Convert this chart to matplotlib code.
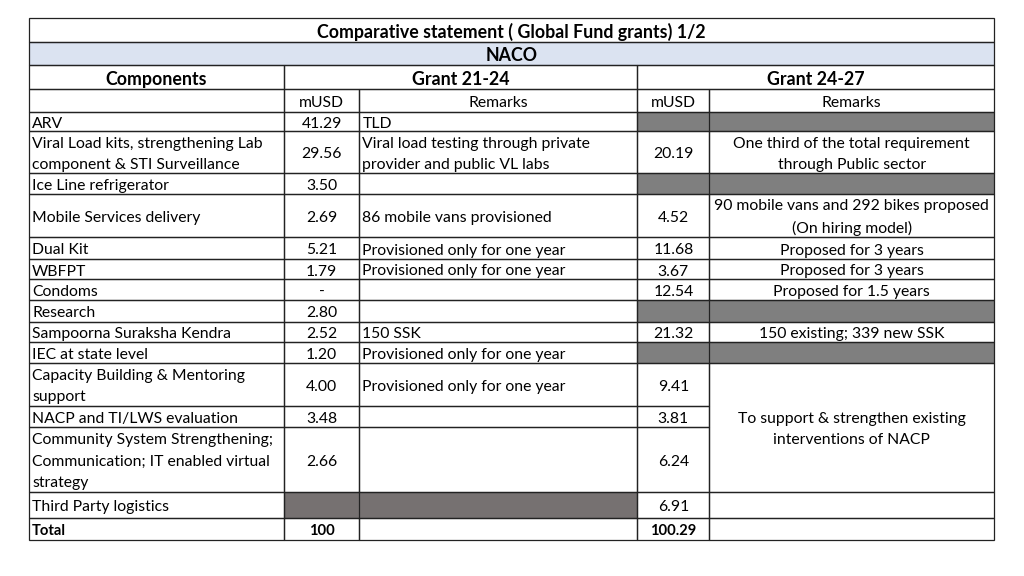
import matplotlib.pyplot as plt
from matplotlib.patches import Rectangle

plt.rcParams['font.family'] = ['Lato', 'DejaVu Sans']

# ---- table content ----
title = 'Comparative statement ( Global Fund grants) 1/2'
org = 'NACO'
first_col = 'Components'
grant_a = 'Grant 21-24'
grant_b = 'Grant 24-27'
sub_heads = ['mUSD', 'Remarks']

components = ['ARV',
              'Viral Load kits, strengthening Lab\ncomponent & STI Surveillance',
              'Ice Line refrigerator',
              'Mobile Services delivery',
              'Dual Kit',
              'WBFPT',
              'Condoms',
              'Research',
              'Sampoorna Suraksha Kendra',
              'IEC at state level',
              'Capacity Building & Mentoring\nsupport',
              'NACP and TI/LWS evaluation',
              'Community System Strengthening;\nCommunication; IT enabled virtual\nstrategy',
              'Third Party logistics',
              'Total']
# None -> shaded (not applicable) cell
musd_a = ['41.29', '29.56', '3.50', '2.69', '5.21', '1.79', '-', '2.80', '2.52', '1.20',
          '4.00', '3.48', '2.66', None, '100']
remarks_a = ['TLD', 'Viral load testing through private\nprovider and public VL labs', '',
             '86 mobile vans provisioned', 'Provisioned only for one year',
             'Provisioned only for one year', '', '', '150 SSK', 'Provisioned only for one year',
             'Provisioned only for one year', '', '', None, '']
musd_b = [None, '20.19', None, '4.52', '11.68', '3.67', '12.54', None, '21.32', None,
          '9.41', '3.81', '6.24', '6.91', '100.29']
remarks_b = [None, 'One third of the total requirement\nthrough Public sector', None,
             '90 mobile vans and 292 bikes proposed\n(On hiring model)',
             'Proposed for 3 years', 'Proposed for 3 years', 'Proposed for 1.5 years', None,
             '150 existing; 339 new SSK', None,
             'To support & strengthen existing\ninterventions of NACP', '', '', '', '']
merged_b = (10, 12)  # rows sharing one remarks cell in grant 24-27

# ---- layout (pixels) ----
xs = [29, 284, 359.3, 637.3, 709.3, 994]
ys = [18, 42.3, 65, 89.3, 111.7, 131, 173.3, 194, 237.3, 259.3, 279.3, 300, 321.7,
      341.7, 363.3, 405.7, 427.3, 491.7, 518.3, 540]
fs = 11.3       # body text
fs_head = 12.8  # bold header text
fs_total = 10.6
edge = '#222222'
lw = 0.9
blue = '#dbe3f1'
shade_a = '#767171'
shade_b = '#7f7f7f'

fig = plt.figure(figsize=(10.24, 5.76), dpi=100)
ax = fig.add_axes([0, 0, 1, 1])
ax.set_xlim(0, 1024)
ax.set_ylim(576, 0)
ax.axis('off')


def cell(c0, c1, r0, r1, text='', ha='center', bold=False, fill=None, size=fs):
    x0, x1 = xs[c0], xs[c1]
    y0, y1 = ys[r0], ys[r1]
    if fill:
        ax.add_patch(Rectangle((x0, y0), x1 - x0, y1 - y0, facecolor=fill,
                               edgecolor='none', zorder=1))
    ax.add_patch(Rectangle((x0, y0), x1 - x0, y1 - y0, fill=False,
                           edgecolor=edge, lw=lw, zorder=3))
    if text:
        tx = x0 + 3 if ha == 'left' else (x0 + x1) / 2
        ax.text(tx, (y0 + y1) / 2 + 2.2, text, ha=ha, va='center', fontsize=size,
                fontweight='bold' if bold else 'normal', linespacing=1.68,
                color='black', zorder=4)


# header
cell(0, 5, 0, 1, title, bold=True, size=fs_head)
cell(0, 5, 1, 2, org, bold=True, fill=blue, size=fs_head)
cell(0, 1, 2, 3, first_col, bold=True, size=fs_head)
cell(1, 3, 2, 3, grant_a, bold=True, size=fs_head)
cell(3, 5, 2, 3, grant_b, bold=True, size=fs_head)
cell(0, 1, 3, 4)
for c, h in zip(range(1, 5), sub_heads * 2):
    cell(c, c + 1, 3, 4, h)

# body
for i, name in enumerate(components):
    r = i + 4
    is_total = name == 'Total'
    size = fs_total if is_total else fs
    cell(0, 1, r, r + 1, name, ha='left', bold=is_total, size=size)

    if musd_a[i] is None:
        cell(1, 3, r, r + 1, fill=shade_a)
        ax.plot([xs[2], xs[2]], [ys[r], ys[r + 1]], color=edge, lw=lw, zorder=3)
    else:
        cell(1, 2, r, r + 1, musd_a[i], bold=is_total, size=size)
        cell(2, 3, r, r + 1, remarks_a[i], ha='left')

    if musd_b[i] is None:
        cell(3, 5, r, r + 1, fill=shade_b)
        ax.plot([xs[4], xs[4]], [ys[r], ys[r + 1]], color=edge, lw=lw, zorder=3)
    else:
        cell(3, 4, r, r + 1, musd_b[i], bold=is_total, size=size)
        if merged_b[0] < i <= merged_b[1]:
            continue
        if i == merged_b[0]:
            cell(4, 5, r, merged_b[1] + 5, remarks_b[i])
        else:
            cell(4, 5, r, r + 1, remarks_b[i])

fig.savefig('out.png', dpi=100, facecolor='white')
